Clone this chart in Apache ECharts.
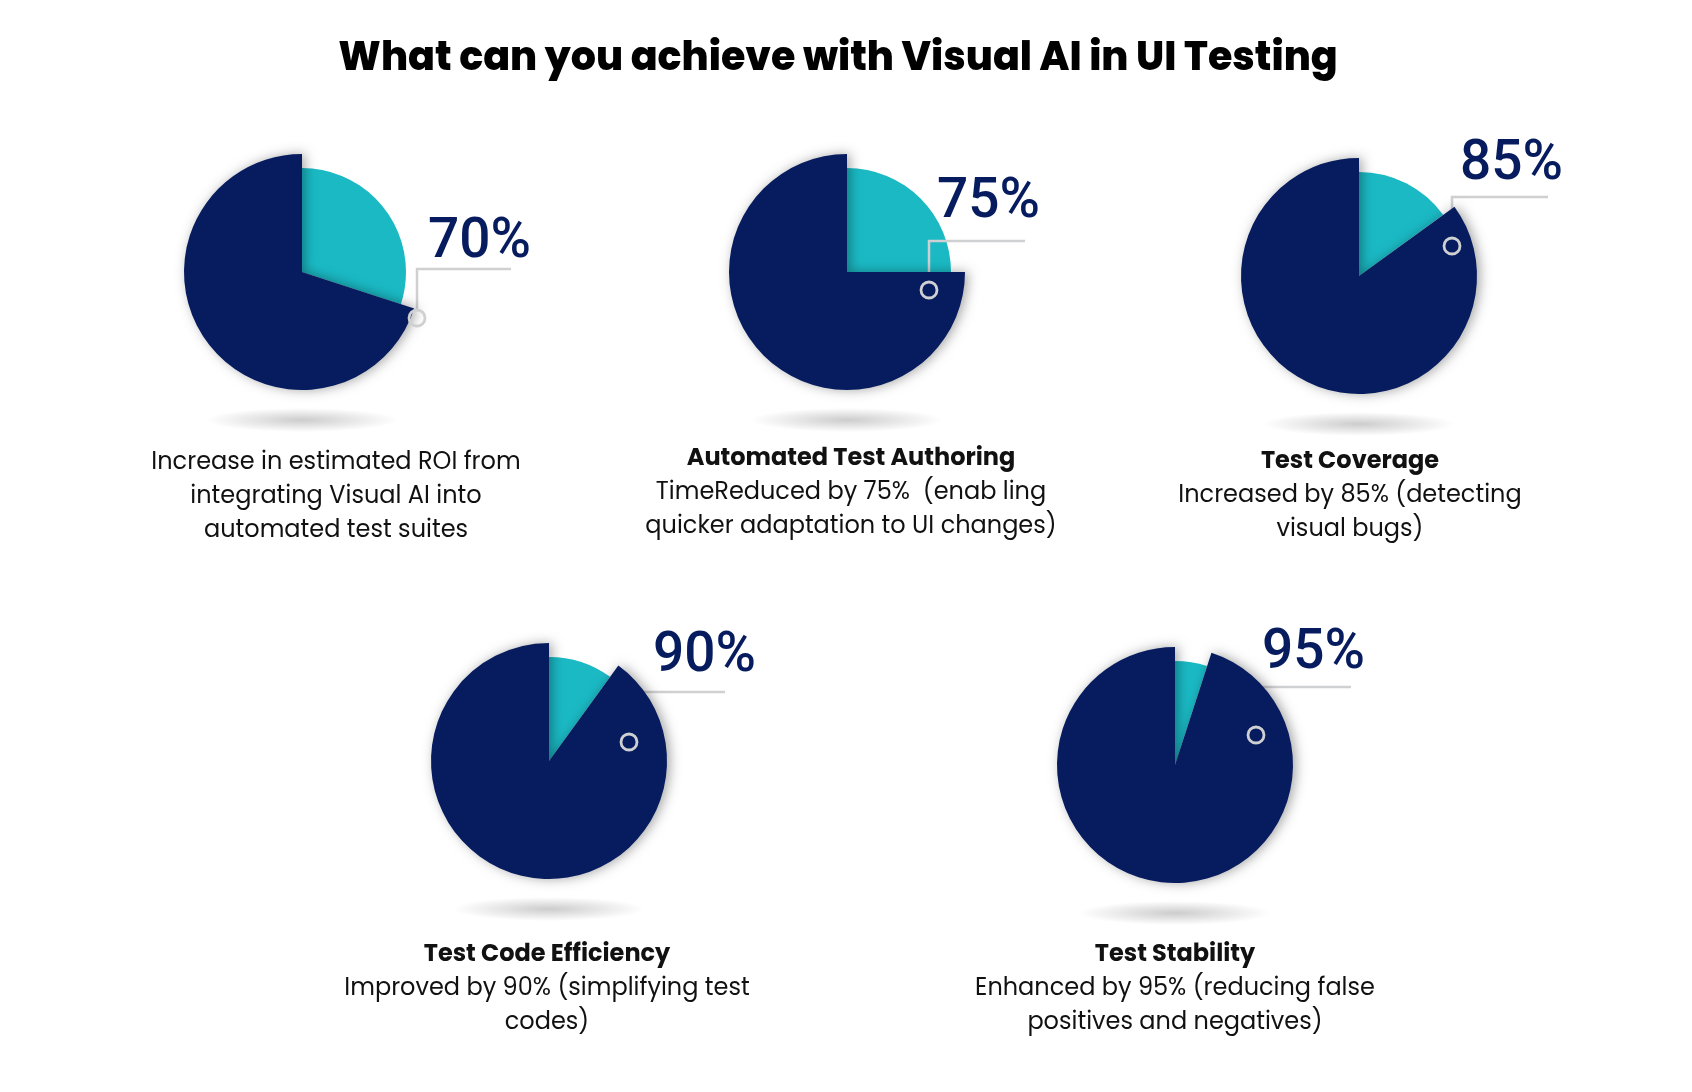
<!DOCTYPE html>
<html>
<head>
<meta charset="utf-8">
<script src="https://cdn.jsdelivr.net/npm/echarts@6/dist/echarts.min.js"></script>
<style>
  html, body { margin: 0; padding: 0; background: #fff; }
  #chart { width: 1692px; height: 1092px; }
</style>
</head>
<body>
<div id="chart"></div>
<script>
const chartTitle = 'What can you achieve with Visual AI in UI Testing';
const pieValues = [70, 75, 85, 90, 95];
const pieRest = [30, 25, 15, 10, 5];
const headings = ['', 'Automated Test Authoring', 'Test Coverage', 'Test Code Efficiency', 'Test Stability'];
const descriptions = [
  'Increase in estimated ROI from\nintegrating Visual AI into\nautomated test suites',
  'TimeReduced by 75%  (enab ling\nquicker adaptation to UI changes)',
  'Increased by 85% (detecting\nvisual bugs)',
  'Improved by 90% (simplifying test\ncodes)',
  'Enhanced by 95% (reducing false\npositives and negatives)'
];

// layout, pixels
const NAVY = '#061c5e';
const CYAN = '#1ab9c4';
const LEAD = '#cfd0d2';
const centers = [[302, 272], [847, 272], [1359, 276], [549, 761], [1175, 765]];
const captionX = [336, 851, 1350, 547, 1175];
const captionTop = [446, 442, 445, 938, 938];
// offsets from pie centre: dot, elbow height, end of line, label left / middle
const leaders = [
  { dot: [115, 46], elbowY: -3, endX: 209, textX: 126, textY: -29 },
  { dot: [82, 18], elbowY: -31, endX: 178, textX: 90, textY: -69 },
  { dot: [93, -30], elbowY: -79, endX: 189, textX: 101, textY: -111 },
  { dot: [80, -19], elbowY: -69, endX: 176, textX: 104, textY: -104 },
  { dot: [81, -30], elbowY: -78, endX: 176, textX: 87, textY: -111 }
];
const DOT_R = 8;

const bodyFont = 'Poppins, Inter, sans-serif';

const chart = echarts.init(document.getElementById('chart'));

const series = [];
const graphics = [];
pieValues.forEach(function (v, i) {
  const c = centers[i];
  const L = leaders[i];
  // small cyan slice, shorter radius
  series.push({
    type: 'pie',
    silent: true,
    center: c,
    radius: 104,
    startAngle: 90,
    label: { show: false },
    labelLine: { show: false },
    data: [
      { value: pieRest[i], itemStyle: { color: CYAN } },
      { value: v, itemStyle: { color: 'rgba(0,0,0,0)' } }
    ]
  });
  // big navy slice with the percent label
  series.push({
    type: 'pie',
    silent: true,
    center: c,
    radius: 118,
    startAngle: 90,
    avoidLabelOverlap: false,
    z: 3,
    data: [
      { value: pieRest[i], itemStyle: { color: 'rgba(0,0,0,0)' }, label: { show: false }, labelLine: { show: false } },
      {
        value: v,
        itemStyle: { color: NAVY, shadowBlur: 12, shadowColor: 'rgba(0,0,0,0.35)', shadowOffsetX: 3 },
        label: {
          show: true,
          position: 'outside',
          formatter: '{c}%',
          color: NAVY,
          fontSize: 55,
          fontWeight: 500,
          fontFamily: 'Roboto, sans-serif'
        },
        labelLine: { show: true, lineStyle: { color: LEAD, width: 2.5 } }
      }
    ],
    labelLayout: function (p) {
      if (p.dataIndex !== 1) return;
      return {
        x: c[0] + L.textX,
        y: c[1] + L.textY,
        align: 'left',
        verticalAlign: 'middle',
        labelLinePoints: [
          [c[0] + L.dot[0], c[1] + L.dot[1] - DOT_R],
          [c[0] + L.dot[0], c[1] + L.elbowY],
          [c[0] + L.endX, c[1] + L.elbowY]
        ]
      };
    }
  });
  graphics.push({
    type: 'circle',
    z: 100,
    shape: { cx: c[0] + L.dot[0], cy: c[1] + L.dot[1], r: DOT_R },
    style: { fill: 'none', stroke: LEAD, lineWidth: 2.8 }
  });
  // soft floor shadow: a circle stretched sideways
  graphics.push({
    type: 'circle',
    z: 0,
    x: c[0],
    y: c[1] + 148,
    scaleX: 8,
    shape: { cx: 0, cy: 0, r: 12 },
    style: {
      fill: {
        type: 'radial', x: 0.5, y: 0.5, r: 0.5,
        colorStops: [
          { offset: 0, color: 'rgba(0,0,0,0.2)' },
          { offset: 0.45, color: 'rgba(0,0,0,0.11)' },
          { offset: 1, color: 'rgba(0,0,0,0)' }
        ]
      }
    }
  });
});

const titles = [{
  text: chartTitle,
  left: 838,
  top: 40,
  textAlign: 'center',
  padding: 0,
  textStyle: { fontSize: 39.6, fontWeight: 800, color: '#000', fontFamily: bodyFont }
}];
headings.forEach(function (h, i) {
  titles.push({
    text: h || descriptions[i],
    subtext: h ? descriptions[i] : '',
    left: captionX[i],
    top: captionTop[i],
    textAlign: 'center',
    padding: 0,
    itemGap: 0,
    textStyle: {
      fontSize: 24, lineHeight: 34, color: '#111',
      fontWeight: h ? 'bold' : 'normal', fontFamily: bodyFont
    },
    subtextStyle: { fontSize: 24, lineHeight: 34, color: '#111', fontFamily: bodyFont }
  });
});

chart.setOption({
  backgroundColor: '#fff',
  animation: false,
  title: titles,
  series: series,
  graphic: graphics
});

window.addEventListener('resize', function () { chart.resize(); });
</script>
</body>
</html>
